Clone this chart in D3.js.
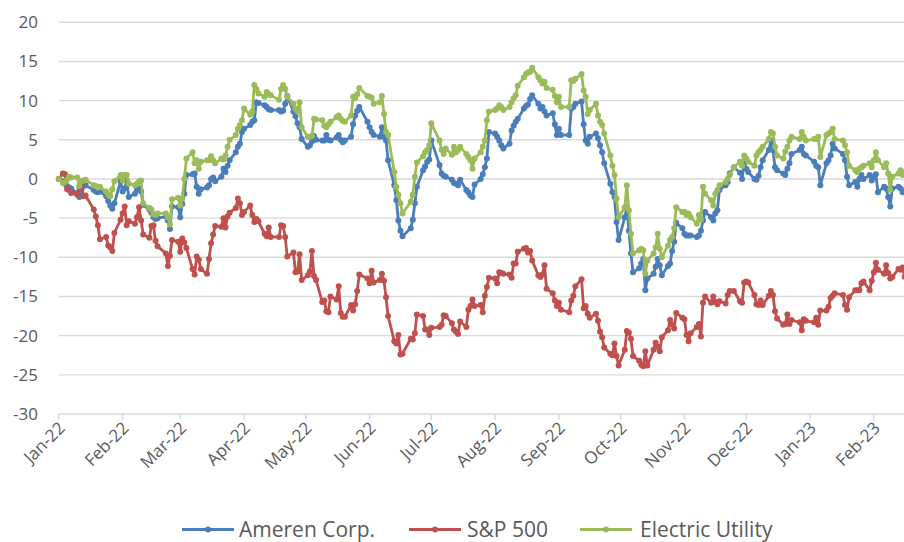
<!DOCTYPE html>
<html>
<head>
<meta charset="utf-8">
<script src="https://cdn.jsdelivr.net/npm/d3@7"></script>
<style>
  body { margin: 0; background: #fff; }
  svg { display: block; font-family: "Open Sans", sans-serif; }
</style>
</head>
<body>
<svg id="chart" width="904" height="542"></svg>
<script>
// cumulative % change since the end of 2021
const seriesNames = ["Ameren Corp.", "S&P 500", "Electric Utility"];
const seriesColors = ["#4a7ebb", "#c0504d", "#9bbb59"];

const baseDate = "2022-01-01";
const months = ["2022-01", "2022-02", "2022-03", "2022-04", "2022-05", "2022-06", "2022-07",
  "2022-08", "2022-09", "2022-10", "2022-11", "2022-12", "2023-01", "2023-02"];
const tradingDays = [
  [3,4,5,6,7,10,11,12,13,14,18,19,20,21,24,25,26,27,28,31],
  [1,2,3,4,7,8,9,10,11,14,15,16,17,18,22,23,24,25,28],
  [1,2,3,4,7,8,9,10,11,14,15,16,17,18,21,22,23,24,25,28,29,30,31],
  [1,4,5,6,7,8,11,12,13,14,18,19,20,21,22,25,26,27,28,29],
  [2,3,4,5,6,9,10,11,12,13,16,17,18,19,20,23,24,25,26,27,31],
  [1,2,3,6,7,8,9,10,13,14,15,16,17,21,22,23,24,27,28,29,30],
  [1,5,6,7,8,11,12,13,14,15,18,19,20,21,22,25,26,27,28,29],
  [1,2,3,4,5,8,9,10,11,12,15,16,17,18,19,22,23,24,25,26,29,30,31],
  [1,2,6,7,8,9,12,13,14,15,16,19,20,21,22,23,26,27,28,29,30],
  [3,4,5,6,7,10,11,12,13,14,17,18,19,20,21,24,25,26,27,28,31],
  [1,2,3,4,7,8,9,10,11,14,15,16,17,18,21,22,23,25,28,29,30],
  [1,2,5,6,7,8,9,12,13,14,15,16,19,20,21,22,23,27,28,29,30],
  [3,4,5,6,9,10,11,12,13,17,18,19,20,23,24,25,26,27,30,31],
  [1,2,3,6,7,8,9,10,13,14,15,16]
];

const ameren = [0,
  -0.3, -0.6, -0.9, -1.1, -1.2, -1.8, -2.3, -1.4, -0.9, -0.8, -1.4, -1.6, -1.7, -1.6, -2.2, -2.8, -3.4, -3.8, -3.1, -0.3,
  -1.6, -1.2, -0.2, -2.3, -1.9, -1.4, -1.2, -1.6, -3.3, -3.9, -4.3, -4.9, -5.1, -5.0, -4.8, -5.3, -6.4, -3.5, -3.6,
  -4.9, -3.2, -1.9, 0.5, 0.6, 0.7, -1.0, -1.9, -1.3, -1.1, -0.8, 0.0, 0.2, -0.3, 0.3, 1.3, 0.9, 1.7, 2.4, 3.4, 4.1, 4.5, 6.0,
  6.4, 6.9, 7.3, 7.5, 9.8, 9.7, 9.4, 9.2, 8.9, 8.8, 8.8, 8.6, 8.7, 9.6, 10.6, 8.6, 8.0, 7.1, 6.6, 5.1,
  4.1, 4.3, 4.8, 5.5, 5.0, 4.9, 4.9, 5.6, 5.0, 4.9, 5.3, 5.6, 5.0, 4.7, 4.9, 5.4, 7.0, 8.1, 8.7, 9.2, 7.3,
  6.6, 6.0, 5.6, 5.4, 6.6, 5.4, 4.9, 2.4, -0.8, -2.7, -5.3, -6.6, -7.3, -6.3, -5.2, -3.1, -1.0, 1.1, 1.6, 2.2, 2.5,
  4.9, 1.8, 0.7, 0.4, 0.3, -0.1, -0.5, -0.6, -0.8, -0.1, -1.4, -1.7, -2.1, -2.3, -0.7, 0.0, 0.6, 1.5, 2.6, 6.0,
  5.8, 5.4, 4.9, 4.3, 3.9, 4.5, 6.2, 6.8, 7.3, 7.7, 9.0, 9.3, 9.5, 10.2, 10.7, 9.6, 9.0, 9.2, 8.6, 8.1, 8.4, 7.0, 5.6,
  6.4, 5.6, 5.6, 9.0, 9.2, 9.6, 9.9, 7.0, 4.9, 4.5, 5.4, 5.8, 5.2, 4.3, 3.4, 2.0, -0.6, -1.7, -2.3, -5.5, -7.8,
  -4.9, -3.6, -6.6, -9.5, -11.9, -11.4, -10.8, -10.2, -14.2, -12.7, -12.1, -11.2, -10.2, -11.0, -12.3, -11.1, -10.8, -9.2, -8.0, -5.6, -6.3,
  -7.0, -7.2, -7.2, -7.2, -7.4, -7.2, -6.6, -5.3, -4.2, -4.9, -5.3, -4.4, -4.0, -1.4, -0.8, -0.4, 0.7, 1.5, 0.8, 0.0, 2.0,
  1.3, 0.9, 0.0, -0.1, 0.4, 1.5, 2.4, 3.7, 4.9, 3.7, 1.5, 1.1, 0.7, 0.5, 1.3, 2.0, 3.2, 3.7, 4.1, 3.2, 3.0,
  2.2, 1.7, 1.5, -0.8, 2.0, 2.4, 3.0, 4.5, 3.9, 3.2, 2.4, 0.3, -0.8, -0.4, -1.0, 0.0, 0.5, 0.0, 0.5, -0.2,
  0.3, 0.6, -1.7, -1.0, -1.2, -2.3, -3.5, -1.2, -1.0, -1.2, -1.7, -1.5
];

const sp500 = [0,
  0.7, 0.6, -1.3, -1.4, -1.8, -2.0, -1.1, -0.8, -2.2, -2.1, -3.9, -4.8, -5.9, -7.7, -7.4, -8.5, -8.7, -9.2, -6.9, -5.2,
  -4.4, -3.5, -5.9, -5.4, -5.7, -4.9, -3.6, -5.3, -7.1, -7.5, -6.0, -5.9, -7.9, -8.6, -9.5, -11.1, -9.8, -7.8, -8.0,
  -9.3, -7.6, -8.1, -8.8, -11.5, -12.2, -9.9, -10.3, -11.5, -12.1, -10.2, -8.2, -7.1, -6.0, -6.1, -5.0, -6.2, -4.8, -4.3, -3.7, -2.5, -3.1, -4.6,
  -4.2, -3.4, -4.6, -5.5, -5.1, -5.4, -7.0, -7.3, -6.2, -7.4, -7.4, -5.9, -6.0, -7.4, -9.9, -9.4, -11.9, -11.8, -9.6, -12.9,
  -12.3, -11.8, -9.2, -12.4, -12.9, -15.7, -15.5, -16.9, -17.0, -15.0, -15.4, -13.7, -17.1, -17.6, -17.6, -16.1, -16.8, -16.0, -14.3, -12.2, -12.7,
  -13.3, -11.7, -13.2, -12.9, -12.1, -13.0, -15.1, -17.5, -20.7, -21.0, -19.9, -22.4, -22.3, -20.4, -20.5, -19.7, -17.3, -17.5, -19.2, -19.2, -19.9,
  -19.0, -18.9, -18.6, -17.4, -17.5, -18.4, -19.2, -19.5, -19.8, -18.2, -18.9, -16.7, -16.2, -15.4, -16.2, -16.1, -17.0, -14.9, -13.8, -12.6,
  -12.7, -13.3, -11.9, -12.0, -12.1, -12.2, -12.6, -10.8, -10.8, -9.3, -8.9, -8.8, -9.4, -9.2, -10.4, -12.3, -12.5, -12.2, -11.0, -14.0, -14.6, -15.5, -16.2,
  -15.8, -16.7, -17.0, -15.5, -14.9, -13.7, -12.8, -16.5, -16.2, -17.2, -17.7, -17.2, -18.1, -19.5, -20.2, -21.5, -22.3, -22.5, -21.0, -22.6, -23.8,
  -21.8, -19.4, -19.6, -20.4, -22.6, -23.2, -23.7, -23.9, -22.0, -23.8, -21.8, -20.9, -21.4, -22.0, -20.2, -19.3, -18.0, -18.6, -19.1, -17.1, -17.7,
  -17.9, -19.9, -20.7, -19.7, -18.9, -18.5, -20.1, -15.8, -15.0, -15.8, -15.0, -15.7, -16.0, -15.6, -15.9, -14.8, -14.3, -14.3, -15.6, -15.8, -13.2,
  -13.1, -13.2, -14.8, -16.0, -16.1, -15.5, -16.1, -14.9, -14.3, -14.8, -16.9, -17.8, -18.6, -18.5, -17.3, -18.5, -18.0, -18.3, -19.3, -17.9, -18.1,
  -18.3, -17.7, -18.6, -16.8, -16.8, -16.3, -15.2, -14.9, -14.6, -14.8, -16.1, -16.7, -15.1, -14.2, -14.2, -14.2, -13.3, -13.1, -14.2, -13.0,
  -11.9, -10.7, -11.6, -12.1, -11.0, -12.0, -12.7, -12.5, -11.5, -11.6, -11.3, -12.5
];

const utility = [0,
  -0.5, -0.4, -0.1, 0.3, 0.2, 0.2, -0.9, -0.3, -0.2, -0.1, -0.8, -0.9, -1.1, -1.0, -1.6, -2.0, -2.2, -1.3, -0.3, 0.5,
  -0.2, 0.5, 0.5, -0.6, -0.8, -0.6, -0.3, -0.2, -3.1, -3.7, -3.9, -4.5, -4.6, -4.4, -4.4, -4.9, -5.8, -2.6, -2.4,
  -3.4, -2.5, 0.0, 2.6, 3.4, 2.0, 2.4, 1.3, 2.2, 2.4, 2.4, 2.9, 2.4, 2.0, 2.6, 2.5, 3.0, 4.1, 5.0, 5.6, 6.4, 6.9, 7.5,
  9.0, 8.2, 8.6, 12.0, 11.5, 10.9, 10.5, 11.1, 10.8, 10.7, 10.1, 11.5, 12.0, 11.5, 10.5, 9.6, 9.0, 8.6, 9.8, 6.6,
  5.4, 5.4, 5.5, 7.7, 7.6, 7.5, 6.8, 6.6, 7.0, 7.3, 7.9, 8.1, 7.7, 7.4, 7.3, 8.1, 10.5, 10.3, 10.8, 11.6, 10.6,
  10.5, 10.4, 9.6, 9.8, 10.6, 8.3, 6.0, 5.6, 0.9, -1.0, -2.0, -3.1, -4.4, -2.9, -2.0, 0.3, 2.1, 2.9, 3.4, 3.7, 4.3,
  7.1, 4.9, 3.7, 3.2, 3.9, 3.1, 4.1, 3.4, 3.7, 4.1, 3.2, 2.8, 2.4, 1.3, 2.6, 3.4, 4.1, 4.9, 7.5, 8.6,
  8.8, 9.0, 9.4, 9.2, 8.8, 9.2, 9.8, 10.3, 10.7, 11.9, 13.0, 13.4, 13.6, 13.7, 14.2, 13.0, 12.6, 12.2, 12.4, 11.6, 11.4, 10.6, 9.8,
  10.5, 9.2, 9.2, 12.6, 12.5, 12.8, 13.4, 11.3, 10.5, 8.3, 8.8, 9.6, 8.1, 7.3, 6.9, 5.8, 3.0, 1.7, 0.5, -2.5, -4.9,
  -3.6, -0.8, -4.0, -7.0, -9.5, -9.1, -8.9, -9.1, -12.1, -10.4, -9.5, -8.7, -7.0, -8.9, -10.0, -8.5, -7.8, -7.4, -6.3, -3.6, -4.2,
  -4.2, -4.6, -4.4, -4.9, -5.7, -4.6, -5.2, -1.0, -1.9, -2.7, -3.4, -1.9, -1.4, -0.8, -0.4, 0.0, 0.5, 1.5, 2.2, 1.7, 3.0,
  2.6, 2.2, 1.7, 3.0, 3.4, 3.7, 4.1, 5.1, 6.0, 5.8, 4.1, 3.0, 2.6, 3.5, 4.1, 4.9, 5.4, 5.1, 6.0, 5.4, 4.9,
  5.1, 5.1, 5.4, 2.8, 5.6, 5.8, 6.0, 6.4, 5.1, 4.9, 4.3, 3.4, 1.7, 1.1, 0.9, 1.3, 1.5, 1.7, 2.0, 1.5,
  2.4, 3.4, 2.4, 1.5, 2.0, 0.7, -1.4, 0.3, 0.7, 1.1, 0.5, 0.8
];

const yTicks = [20, 15, 10, 5, 0, -5, -10, -15, -20, -25, -30];

// build the date list
const parseDay = d3.utcParse("%Y-%m-%d");
const dates = [parseDay(baseDate)];
months.forEach((m, i) => {
  tradingDays[i].forEach(d => dates.push(parseDay(m + "-" + String(d).padStart(2, "0"))));
});

const series = [ameren, sp500, utility].map((vals, i) => ({
  name: seriesNames[i],
  color: seriesColors[i],
  points: vals.map((v, j) => ({ date: dates[j], value: v }))
}));

const svg = d3.select("#chart");
const width = 904, height = 542;
const plotLeft = 58.8, plotTop = 22.3, plotBottom = 414;

const x = d3.scaleUtc()
  .domain([parseDay("2022-01-01"), parseDay("2023-02-01")])
  .range([plotLeft, 873.8]);

const y = d3.scaleLinear()
  .domain([-30, 20])
  .range([plotBottom, plotTop]);

const textColor = "#595959";
const gridColor = "#d9d9d9";

// horizontal gridlines
svg.append("g")
  .selectAll("line")
  .data(yTicks)
  .join("line")
  .attr("x1", plotLeft)
  .attr("x2", width)
  .attr("y1", d => y(d))
  .attr("y2", d => y(d))
  .attr("stroke", gridColor)
  .attr("stroke-width", 1.4);

// y labels
svg.append("g")
  .selectAll("text")
  .data(yTicks)
  .join("text")
  .attr("x", 38)
  .attr("y", d => y(d))
  .attr("dy", "0.35em")
  .attr("text-anchor", "end")
  .attr("fill", textColor)
  .attr("font-size", 17)
  .text(d => d);

// x axis ticks + labels
const monthTicks = d3.utcMonth.range(parseDay("2022-01-01"), parseDay("2023-02-02"));
const fmt = d3.utcFormat("%b-%y");

const xAxis = svg.append("g");
xAxis.selectAll("line")
  .data(monthTicks)
  .join("line")
  .attr("x1", d => x(d))
  .attr("x2", d => x(d))
  .attr("y1", plotBottom)
  .attr("y2", plotBottom + 6)
  .attr("stroke", gridColor)
  .attr("stroke-width", 1.4);

xAxis.selectAll("text")
  .data(monthTicks)
  .join("text")
  .attr("transform", d => `translate(${x(d) + 3},${plotBottom + 11}) rotate(-45)`)
  .attr("dy", "0.35em")
  .attr("text-anchor", "end")
  .attr("fill", textColor)
  .attr("font-size", 17)
  .text(d => fmt(d));

// series lines and markers
const line = d3.line()
  .x(d => x(d.date))
  .y(d => y(d.value));

const plot = svg.append("g");
series.forEach(s => {
  const g = plot.append("g");
  g.append("path")
    .datum(s.points)
    .attr("fill", "none")
    .attr("stroke", s.color)
    .attr("stroke-width", 2.8)
    .attr("stroke-linejoin", "round")
    .attr("d", line);
  g.selectAll("circle")
    .data(s.points)
    .join("circle")
    .attr("cx", d => x(d.date))
    .attr("cy", d => y(d.value))
    .attr("r", 3)
    .attr("fill", s.color);
});

// legend
const legendY = 529.5;
const legendItems = [
  { x0: 182, textX: 239 },
  { x0: 409, textX: 467 },
  { x0: 580, textX: 640 }
];
const legend = svg.append("g");
series.forEach((s, i) => {
  const it = legendItems[i];
  const g = legend.append("g");
  g.append("line")
    .attr("x1", it.x0)
    .attr("x2", it.x0 + 52)
    .attr("y1", legendY)
    .attr("y2", legendY)
    .attr("stroke", s.color)
    .attr("stroke-width", 3);
  g.append("circle")
    .attr("cx", it.x0 + 26)
    .attr("cy", legendY)
    .attr("r", 3)
    .attr("fill", s.color);
  g.append("text")
    .attr("x", it.textX)
    .attr("y", legendY)
    .attr("dy", "0.35em")
    .attr("fill", textColor)
    .attr("font-size", 21)
    .text(s.name);
});
</script>
</body>
</html>
